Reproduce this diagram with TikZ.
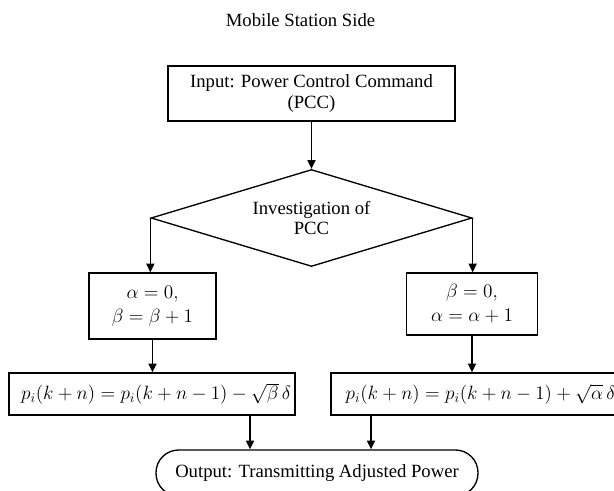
\documentclass[tikz,border=0pt]{standalone}
\usepackage{fontspec}
\setmainfont{Liberation Serif}
\usetikzlibrary{arrows.meta,shapes.geometric}
\begin{document}
\begin{tikzpicture}[x=0.75pt,y=-0.75pt,
  every node/.style={font=\fontsize{14}{15.5}\selectfont},
  box/.style={draw,line width=1pt,inner sep=0pt,align=center},
  decide/.style={draw,line width=1pt,shape=diamond,aspect=3.3,inner sep=0pt,align=center},
  term/.style={draw,line width=1pt,rounded corners=17pt,inner sep=0pt,align=center},
  mathtxt/.style={font=\fontsize{15}{18}\selectfont},
  formtxt/.style={font=\fontsize{14.5}{17}\selectfont},
  arr/.style={line width=1pt,-{Triangle[length=6.5pt,width=6pt]}}]
\useasboundingbox (0,0) rectangle (614,491);
\fill[white] (0,0) rectangle (614,491);
\clip (0,0) rectangle (614,491);

\node (title) at (300.5,20) {Mobile Station Side};
\node[box,minimum width=215.25pt,minimum height=41.25pt] (inp) at (311.5,93.5)
  {Input: Power Control Command\\(PCC)};
\node[decide,minimum width=240.75pt,minimum height=72.75pt] (dia) at (311.5,218)
  {Investigation of\\PCC};
\node[box,mathtxt,minimum width=95.25pt,minimum height=49.5pt] (lbox) at (152.5,306)
  {$\alpha=0,$\\$\beta=\beta+1$};
\node[box,mathtxt,minimum width=98.25pt,minimum height=46.5pt] (rbox) at (472,304)
  {$\beta=0,$\\$\alpha=\alpha+1$};
\node[box,formtxt,minimum width=214.5pt,minimum height=31.5pt] (lform) at (152,394)
  {\hspace{6pt}$p_i(k+n)=p_i(k+n-1)-\sqrt{\beta}\,\delta$};
\node[box,formtxt,minimum height=31.5pt,inner xsep=11pt,text width=206pt,align=left] (rform) at (483,394)
  {$p_i(k+n)=p_i(k+n-1)+\sqrt{\alpha}\,\delta$};
\node[term,minimum width=241.5pt,minimum height=34.5pt] (out) at (317,473)
  {Output: Transmitting Adjusted Power};

\draw[arr] (inp.south) -- (dia.north);
\draw[arr] (dia.west) -- (dia.west |- lbox.north);
\draw[arr] (dia.east) -- (dia.east |- rbox.north);
\draw[arr] (lbox.south) -- (lbox.south |- lform.north);
\draw[arr] (rbox.south) -- (rbox.south |- rform.north);
\coordinate (l1) at ([xshift=73.5pt]lform.south);
\coordinate (r1) at ([xshift=-84pt]rform.south);
\draw[arr] (l1) -- (l1 |- out.north);
\draw[arr] (r1) -- (r1 |- out.north);
\end{tikzpicture}
\end{document}
